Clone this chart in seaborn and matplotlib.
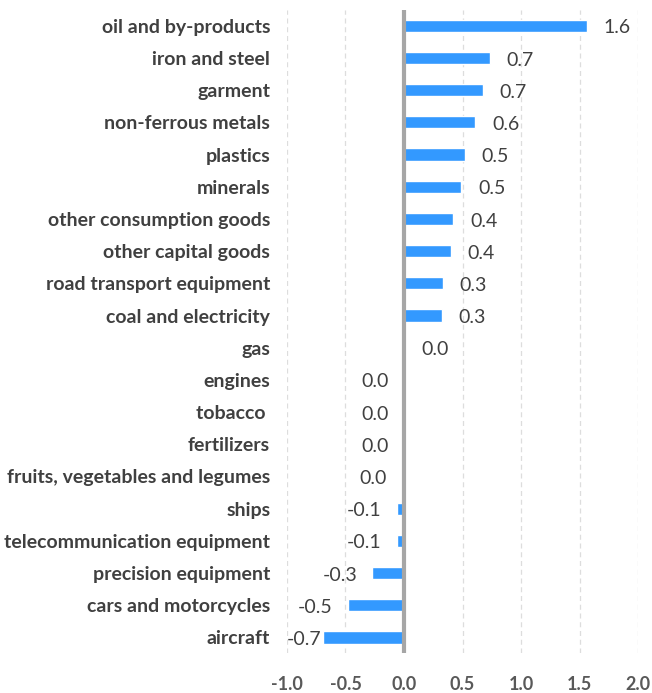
import numpy as np
import pandas as pd
import matplotlib
matplotlib.use('Agg')
import matplotlib.pyplot as plt
import seaborn as sns

# data (top to bottom)
sectors = ['oil and by-products', 'iron and steel', 'garment', 'non-ferrous metals',
           'plastics', 'minerals', 'other consumption goods', 'other capital goods',
           'road transport equipment', 'coal and electricity', 'gas', 'engines',
           'tobacco ', 'fertilizers', 'fruits, vegetables and legumes', 'ships',
           'telecommunication equipment', 'precision equipment', 'cars and motorcycles',
           'aircraft']
values = [1.56, 0.73, 0.67, 0.61, 0.52, 0.49, 0.42, 0.40, 0.33, 0.32, 0.01,
          -0.004, -0.003, -0.003, -0.02, -0.06, -0.06, -0.27, -0.48, -0.69]
xticks = [-1.0, -0.5, 0.0, 0.5, 1.0, 1.5, 2.0]

df = pd.DataFrame({'sector': sectors, 'value': values})

sns.set_style('white')
plt.rcParams['font.family'] = ['Lato', 'DejaVu Sans']

fig = plt.figure(figsize=(6.52, 6.93), dpi=100)
ax = fig.add_axes([0.44, 0.057, 0.539, 0.929])

sns.barplot(data=df, x='value', y='sector', orient='h', color='#3399FF',
            saturation=1, width=0.38, ax=ax, zorder=3)

ax.set_xlim(-1.0, 2.0)
ax.set_ylim(len(sectors) - 0.5, -0.5)
ax.set_xticks(xticks)
ax.set_xticklabels([f'{t:.1f}' for t in xticks], fontsize=13,
                   fontweight='bold', color='#595959')
ax.tick_params(axis='x', length=0, pad=16)
ax.tick_params(axis='y', length=0, pad=12)
for lab in ax.get_yticklabels():
    lab.set_fontweight('bold')
    lab.set_fontsize(14)
    lab.set_color('#404040')
ax.set_xlabel('')
ax.set_ylabel('')

for t in xticks:
    if t != 0:
        ax.axvline(t, color='#DDDDDD', lw=0.9, ls=(0, (4, 3)), zorder=1)
ax.axvline(0, color='#A6A6A6', lw=3, zorder=4)

for s in ax.spines.values():
    s.set_visible(False)

for i, v in enumerate(values):
    if v >= 0:
        ax.annotate(f'{v:.1f}', (v, i), xytext=(12, -1.5), textcoords='offset points',
                    ha='left', va='center', fontsize=14, color='#404040')
    elif v < -0.6:
        ax.annotate(f'{v:.1f}', (-1.0, i), xytext=(0, -1.5), textcoords='offset points',
                    ha='left', va='center', fontsize=14, color='#404040')
    else:
        lab = f'{v:.1f}' if v <= -0.05 else '0.0'
        ax.annotate(lab, (v, i), xytext=(-11, -1.5), textcoords='offset points',
                    ha='right', va='center', fontsize=14, color='#404040')

fig.savefig('out.png', dpi=100)
